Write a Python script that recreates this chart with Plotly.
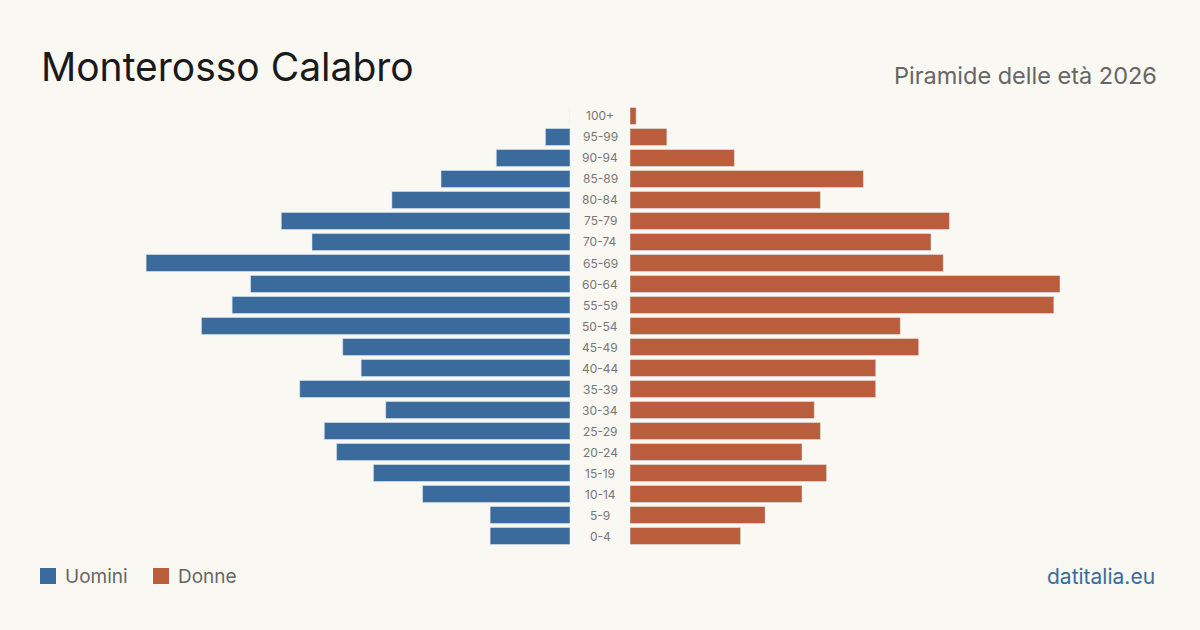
import plotly.graph_objects as go

ages = ["0-4", "5-9", "10-14", "15-19", "20-24", "25-29", "30-34", "35-39", "40-44",
        "45-49", "50-54", "55-59", "60-64", "65-69", "70-74", "75-79", "80-84",
        "85-89", "90-94", "95-99", "100+"]
men = [13, 13, 24, 32, 38, 40, 30, 44, 34, 37, 60, 55, 52, 69, 42, 47, 29, 21, 12, 4, 0]
women = [18, 22, 28, 32, 28, 31, 30, 40, 40, 47, 44, 69, 70, 51, 49, 52, 31, 38, 17, 6, 1]

BLUE = "#3b6a9c"
ORANGE = "#b95d3d"
BG = "#f9f8f3"
FONT = "Inter"

fig = go.Figure()
fig.add_trace(go.Bar(y=ages, x=men, orientation="h", marker_color=BLUE,
                     xaxis="x", yaxis="y", name="Uomini", showlegend=False,
                     hovertemplate="%{y}: %{x}<extra>Uomini</extra>"))
fig.add_trace(go.Bar(y=ages, x=women, orientation="h", marker_color=ORANGE,
                     xaxis="x2", yaxis="y", name="Donne", showlegend=False,
                     hovertemplate="%{y}: %{x}<extra>Donne</extra>"))

for a in ages:
    fig.add_annotation(x=0.5, xref="paper", y=a, yref="y", text=a, showarrow=False,
                       font=dict(family=FONT, size=12, color="#777777"),
                       xanchor="center", yanchor="middle")

# Title & subtitle
fig.add_annotation(x=39/1200, y=1-92/630, xref="paper", yref="paper", text="Monterosso Calabro",
                   showarrow=False, xanchor="left", yanchor="bottom",
                   font=dict(family=FONT, size=39, color="#1a1a1a"))
fig.add_annotation(x=1159/1200, y=1-92/630, xref="paper", yref="paper", text="Piramide delle età 2026",
                   showarrow=False, xanchor="right", yanchor="bottom",
                   font=dict(family=FONT, size=23.5, color="#666666"))
fig.add_annotation(x=1157/1200, y=1-576/630, xref="paper", yref="paper", text="datitalia.eu",
                   showarrow=False, xanchor="right", yanchor="middle",
                   font=dict(family=FONT, size=21, color="#3b6a9c"))

# Legend
for x0, col, label in [(40, BLUE, "Uomini"), (153, ORANGE, "Donne")]:
    fig.add_shape(type="rect", xref="paper", yref="paper",
                  x0=x0/1200, x1=(x0+16)/1200, y0=1-584/630, y1=1-568/630,
                  fillcolor=col, line_width=0)
    fig.add_annotation(x=(x0+23)/1200, y=1-576/630, xref="paper", yref="paper", text=label,
                       showarrow=False, xanchor="left", yanchor="middle",
                       font=dict(family=FONT, size=19, color="#666666"))

fig.update_layout(
    width=1200, height=630,
    margin=dict(l=0, r=0, t=0, b=0),
    paper_bgcolor=BG, plot_bgcolor=BG,
    bargap=0.19,
    xaxis=dict(domain=[140/1200, 570/1200], range=[70, 0], visible=False, fixedrange=True),
    xaxis2=dict(domain=[630/1200, 1060/1200], range=[0, 70], visible=False, fixedrange=True),
    yaxis=dict(domain=[83.5/630, 524.5/630], visible=False, range=[-0.5, 20.5],
               categoryorder="array", categoryarray=ages),
)

fig.write_html("out.html")
